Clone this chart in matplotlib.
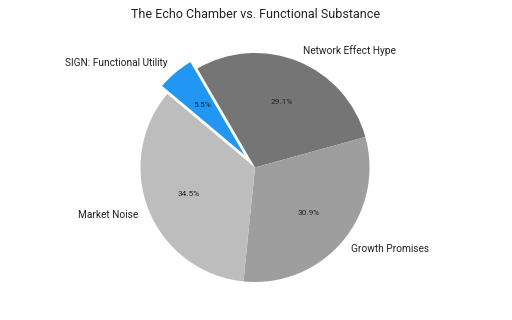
import matplotlib
matplotlib.use("Agg")
import matplotlib.pyplot as plt

categories = ["SIGN: Functional Utility", "Network Effect Hype", "Growth Promises", "Market Noise"]
values = [5.5, 29.1, 30.9, 34.5]
colors = ["#2196F3", "#757575", "#9E9E9E", "#BDBDBD"]
explode = [0.09, 0, 0, 0]
title = "The Echo Chamber vs. Functional Substance"

plt.rcParams['font.family'] = ['Roboto', 'DejaVu Sans']

fig = plt.figure(figsize=(5.12, 3.2), dpi=100)
fig.patch.set_facecolor("white")

R = 114.5
L = 1.4
W = 2 * L * R
cx, cy = 255, 320 - 167.5
ax = fig.add_axes([(cx - W / 2) / 512, (cy - W / 2) / 320, W / 512, W / 320])

wedges, texts, autotexts = ax.pie(
    values, labels=categories, colors=colors, explode=explode,
    startangle=140, counterclock=False, autopct="%1.1f%%",
    pctdistance=0.62, labeldistance=1.1,
    textprops=dict(fontsize=7.3, color="#222222"),
)
for w in wedges:
    w.set_edgecolor("none")
wedges[0].set_edgecolor("white")
wedges[0].set_linewidth(1.5)
for t in autotexts:
    t.set_fontsize(6)
    t.set_color("#222222")

ax.set_xlim(-L, L)
ax.set_ylim(-L, L)
ax.set_aspect("equal")
ax.axis("off")

fig.text(0.5, 1 - 15 / 320, title, ha="center", va="center", fontsize=9, color="#222222")

fig.savefig("out.png", dpi=100, facecolor="white")
